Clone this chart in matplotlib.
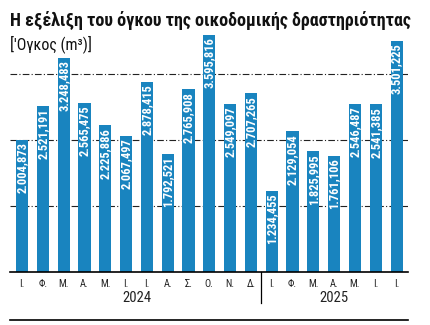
import matplotlib
matplotlib.use("Agg")
import matplotlib.pyplot as plt
from matplotlib import font_manager

# data
months = ["Ι.", "Φ.", "Μ.", "Α.", "Μ.", "Ι.", "Ι.", "Α.", "Σ.", "Ο.", "Ν.", "Δ.",
          "Ι.", "Φ.", "Μ.", "Α.", "Μ.", "Ι.", "Ι."]
volume_2024 = [2004873, 2521191, 3248483, 2565475, 2225886, 2067497,
               2878415, 1792521, 2765908, 3595816, 2549097, 2707265]
volume_2025 = [1234455, 2129054, 1825995, 1761106, 2546487, 2541385, 3501225]
years = ["2024", "2025"]

values = volume_2024 + volume_2025
blue = "#1984bf"

# pick a narrow face if one is around
fonts = font_manager.fontManager.ttflist
names = {f.name for f in fonts}
stretch = "normal"
if "Liberation Sans Narrow" in names:
    family = "Liberation Sans Narrow"
elif "Roboto Condensed" in names:
    family = "Roboto Condensed"
elif any(f.name == "DejaVu Sans" and f.stretch == "condensed" for f in fonts):
    family, stretch = "DejaVu Sans", "condensed"
else:
    family = "Roboto"
plt.rcParams["font.family"] = [family, "DejaVu Sans"]
plt.rcParams["font.stretch"] = stretch


def fmt(v):
    s = f"{v:,}"
    return s.replace(",", ".", 1) if v >= 1_000_000 else s


W, H = 431, 325
fig = plt.figure(figsize=(W / 100, H / 100), dpi=100)
base, top = 272, 34.4
ax = fig.add_axes([10 / W, (H - base) / H, 398 / W, (base - top) / H])

x = list(range(len(values)))
ax.bar(x, values, width=0.58, color=blue, zorder=2)
ax.set_xlim(-0.58, len(values) - 1 + 0.55)
ax.set_ylim(0, 3.6e6)

for yv in [1e6, 2e6, 3e6]:
    ax.axhline(yv, color="#222222", lw=0.8, ls=(0, (6, 2, 1, 2)), zorder=1)

for xi, v in zip(x, values):
    ax.text(xi, v - 40000, fmt(v), rotation=90, ha="center", va="top",
            color="white", fontsize=9, fontweight="bold", zorder=3)

for s in ["top", "right", "left"]:
    ax.spines[s].set_visible(False)
ax.spines["bottom"].set_linewidth(1.2)
ax.set_yticks([])
ax.set_xticks(x)
ax.set_xticklabels(months, fontsize=7.5, color="#222222")
ax.tick_params(axis="x", length=0, pad=5)

# year separator and labels
sep = len(volume_2024) - 0.5
ax.plot([sep, sep], [0, -0.13], transform=ax.get_xaxis_transform(),
        color="black", lw=0.9, clip_on=False)
ax.text((len(volume_2024) - 1) / 2, -0.11, years[0], transform=ax.get_xaxis_transform(),
        ha="center", va="center", fontsize=10.5, color="#222222")
ax.text(len(volume_2024) + (len(volume_2025) - 1) / 2, -0.11, years[1],
        transform=ax.get_xaxis_transform(), ha="center", va="center", fontsize=10.5,
        color="#222222")

fig.text(10 / W, 1 - 20 / H, "Η εξέλιξη του όγκου της οικοδομικής δραστηριότητας",
         fontsize=13, fontweight="bold", va="center", ha="left", color="#111111")
fig.text(10 / W, 1 - 44 / H, "['Ογκος (m³)]", fontsize=11.5, va="center", ha="left",
         color="#111111")
fig.add_artist(plt.Line2D([10 / W, 408 / W], [1 - 320 / H, 1 - 320 / H],
                          color="black", lw=1.2))

fig.savefig("out.png", dpi=100)
